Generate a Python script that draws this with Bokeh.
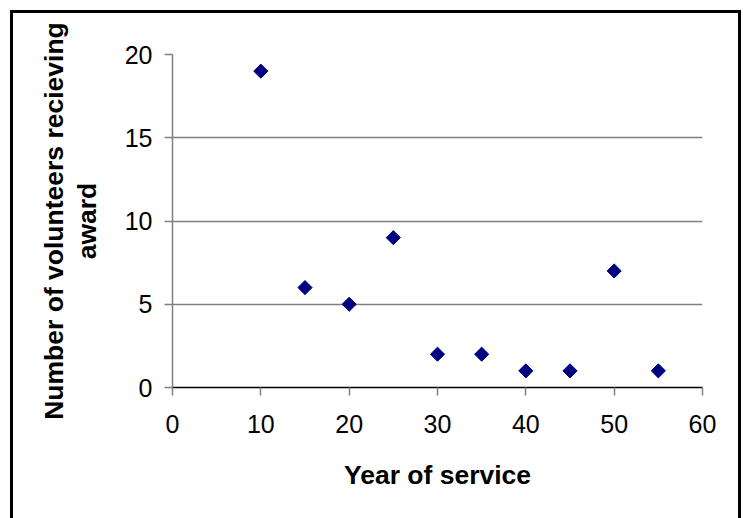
import math
from bokeh.plotting import figure
from bokeh.models import ColumnDataSource, FixedTicker, Range1d, LinearAxis
from bokeh.embed import file_html
from bokeh.resources import INLINE

years = [10, 15, 20, 25, 30, 35, 40, 45, 50, 55]
volunteers = [19, 6, 5, 9, 2, 2, 1, 1, 7, 1]
x_ticks = [0, 10, 20, 30, 40, 50, 60]
y_ticks = [0, 5, 10, 15, 20]
x_title = "Year of service"
y_title_lines = ["Number of volunteers recieving", "award"]

src = ColumnDataSource(dict(x=years, y=volunteers))

p = figure(width=743, height=518, output_backend="svg", toolbar_location=None,
           x_range=Range1d(0, 60), y_range=Range1d(0, 20),
           min_border_left=172, min_border_right=41, min_border_top=54, min_border_bottom=131)
p.outline_line_color = None
p.background_fill_color = "white"
p.border_fill_color = None
p.styles = {
    "background-color": "white",
    "background-image": "linear-gradient(#000,#000), linear-gradient(#000,#000), linear-gradient(#000,#000)",
    "background-position": "10px 10px, 10px 10px, 738px 10px",
    "background-size": "3px 600px, 731px 3px, 3px 600px",
    "background-repeat": "no-repeat",
}

p.scatter("x", "y", source=src, marker="square", angle=math.pi / 4, size=10,
          fill_color="#000080", line_color="#000080")

font = "Liberation Sans"
p.xaxis.ticker = FixedTicker(ticks=x_ticks)
p.yaxis.ticker = FixedTicker(ticks=y_ticks)
p.xgrid.grid_line_color = None
p.ygrid.grid_line_color = "#808080"
p.ygrid.grid_line_width = 1.5

outer = LinearAxis(ticker=FixedTicker(ticks=[]), axis_line_color=None,
                   major_tick_line_color=None, minor_tick_line_color=None,
                   major_label_text_font_size="0px")
p.add_layout(outer, "left")

for ax in (p.xaxis[0], p.yaxis[0], outer):
    ax.major_label_text_font = font
    ax.axis_label_text_font = font
    ax.axis_label_text_font_size = "26.5px"
    ax.axis_label_text_font_style = "bold"
    ax.axis_label_text_color = "black"

for ax in (p.xaxis[0], p.yaxis[0]):
    ax.major_label_text_font_size = "25px"
    ax.major_label_text_color = "black"
    ax.major_tick_out = 8
    ax.major_tick_in = 0
    ax.minor_tick_out = 0
    ax.minor_tick_in = 0
    ax.major_tick_line_color = "#808080"
    ax.major_tick_line_width = 1.5

p.xaxis.axis_line_color = "black"
p.xaxis.axis_line_width = 1.5
p.yaxis[0].axis_line_color = "#808080"
p.yaxis[0].axis_line_width = 1.5
p.xaxis.axis_label = x_title
p.yaxis[0].axis_label = y_title_lines[1]
outer.axis_label = y_title_lines[0]
p.xaxis.major_label_standoff = 19
p.yaxis[0].major_label_standoff = 12
p.xaxis.axis_label_standoff = 24
p.yaxis[0].axis_label_standoff = 20
outer.axis_label_standoff = 0
outer.major_tick_out = 0
outer.major_tick_in = 0
outer.minor_tick_out = 0
outer.minor_tick_in = 0
outer.major_label_standoff = 0

open("out.html", "w").write(file_html(p, INLINE))
